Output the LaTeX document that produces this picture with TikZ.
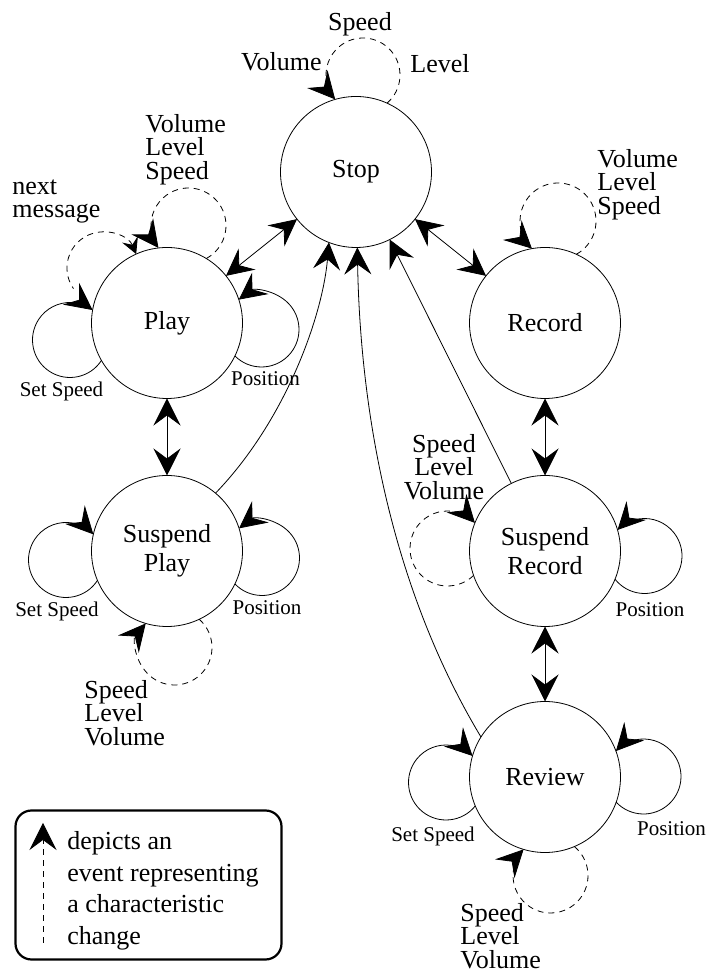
\documentclass[tikz,border=0pt]{standalone}
\usepackage{fontspec}
\setmainfont{Liberation Serif}
\usetikzlibrary{arrows.meta}
\newcommand\Rz{\rule{0pt}{20pt}}
\def\NR{75.5}
% self loop: #1 node, #2 dx, #3 dy (loop centre rel. to node centre), #4 loop radius, #5 1=ccw / -1=cw, #6 style
\newcommand\sloop[6]{%
  \pgfmathsetmacro\slD{sqrt((#2/10)^2+(#3/10)^2)}%
  \pgfmathsetmacro\slPhi{atan2(#3,#2)}%
  \pgfmathsetmacro\slBeta{acos((\slD^2+(#4/10)^2-(\NR/10)^2)/(2*\slD*#4/10))}%
  \pgfmathsetmacro\slGam{acos((\slD^2+(\NR/10)^2-(#4/10)^2)/(2*\slD*\NR/10))}%
  \ifnum#5>0
    \pgfmathsetmacro\slNA{\slPhi-\slGam}%
    \pgfmathsetmacro\slSA{\slPhi+180+\slBeta}%
    \pgfmathsetmacro\slEA{\slPhi+540-\slBeta}%
  \else
    \pgfmathsetmacro\slNA{\slPhi+\slGam}%
    \pgfmathsetmacro\slSA{\slPhi+180-\slBeta}%
    \pgfmathsetmacro\slEA{\slPhi-180+\slBeta}%
  \fi
  \draw[#6] ([shift={(\slNA:\NR pt)}]#1.center) arc[start angle=\slSA, end angle=\slEA, radius=#4pt];%
}
\begin{document}
\begin{tikzpicture}[x=1pt,y=1pt,
  >={Stealth[length=27pt,width=27pt,inset=10pt]},
  line width=0.8pt,
  state/.style={draw, circle, minimum size=151pt, inner sep=0pt, outer sep=0pt,
    font={\fontsize{26}{29}\selectfont}, align=center},
  dsh/.style={dash pattern=on 6pt off 5pt},
  lbl/.style={inner sep=0pt, align=left, font={\fontsize{26}{23.5}\selectfont\lineskiplimit=-50pt}},
  lblc/.style={inner sep=0pt, align=center, font={\fontsize{26}{23.5}\selectfont\lineskiplimit=-50pt}},
  one/.style={inner sep=0pt, font={\fontsize{26}{29}\selectfont}},
  small/.style={inner sep=0pt, font={\fontsize{21}{24}\selectfont}},
  legtext/.style={inner sep=0pt, align=left, font={\fontsize{26}{31.7}\selectfont}},
]
\useasboundingbox (0,0) rectangle (709,973);

% states
\node[state] (stop)    at (356,801) {Stop};
\node[state] (play)    at (167,650) {Play};
\node[state] (record)  at (545,650) {Record};
\node[state] (susplay) at (167,422) {Suspend\\Play};
\node[state] (susrec)  at (545,422) {Suspend\\Record};
\node[state] (review)  at (545,196) {Review};

% transitions
\draw[<->] (play) -- (stop);
\draw[<->] (stop) -- (record);
\draw[<->] (play) -- (susplay);
\draw[<->] (record) -- (susrec);
\draw[<->] (susrec) -- (review);
\draw[->] (susrec) -- (stop);
\draw[->] (susplay.50) .. controls +(46:100pt) and +(265:75pt) .. (stop.249);
\draw[->] (review.148) .. controls +(121:183pt) and +(271:152pt) .. (stop.271);

% self loops
\sloop{stop}{7}{97}{37}{1}{dsh,->}
\sloop{play}{21.5}{97.5}{37.5}{1}{dsh,->}
\sloop{record}{13}{102}{38}{1}{dsh,->}
\sloop{play}{94.5}{-6.5}{37.5}{1}{->}
\sloop{play}{-97}{-17}{37.5}{-1}{->}
\sloop{susplay}{-101}{-9}{37.5}{-1}{->}
\sloop{susplay}{95}{-7}{37.5}{1}{->}
\sloop{susplay}{7.5}{-96.5}{37.5}{-1}{dsh,->}
\sloop{susrec}{99.5}{-5}{37.5}{1}{->}
\sloop{susrec}{-97.5}{2.5}{37.5}{-1}{dsh,->}
\sloop{review}{-99}{-5.5}{37.5}{-1}{->}
\sloop{review}{98.5}{0.5}{37.5}{1}{->}
\sloop{review}{5.5}{-98.5}{37.5}{-1}{dsh,->}
\draw[dsh,{Stealth[length=16pt,width=17pt,inset=6pt]}-] ([shift={(114.1:\NR pt)}]play.center) arc[start angle=22.7, end angle=215, radius=36pt];

% labels
\node[one, anchor=base] (stopspeed) at (360,942) {Speed};
\node[one, anchor=base east] (stopvol) at (322,902) {Volume};
\node[one, anchor=base west] (stoplev) at (410,900) {Level};
\node[lbl, anchor=north west] (playvls) at (145,861) {\Rz Volume\\Level\\Speed};
\node[lbl, anchor=north west] (nextmsg) at (12,799) {\Rz next\\message};
\node[lbl, anchor=north west] (recvls) at (597,826) {\Rz Volume\\Level\\Speed};
\node[lblc, anchor=north] (srslv) at (444,541) {\Rz Speed\\Level\\Volume};
\node[lbl, anchor=north west] (spslv) at (84,295) {\Rz Speed\\Level\\Volume};
\node[lbl, anchor=north west] (rvslv) at (460,72) {\Rz Speed\\Level\\Volume};

\node[small, anchor=base] (playset) at (61.5,576) {Set Speed};
\node[small, anchor=base] (playpos) at (265.5,587) {Position};
\node[small, anchor=base] (spset) at (57,356) {Set Speed};
\node[small, anchor=base] (sppos) at (267,358) {Position};
\node[small, anchor=base] (srpos) at (650,356) {Position};
\node[small, anchor=base] (rvset) at (433,131) {Set Speed};
\node[small, anchor=base] (rvpos) at (671.5,137) {Position};

% legend
\node[draw, rounded corners=16pt, line width=2.2pt, minimum width=266pt, minimum height=149pt, inner sep=0pt] (legend) at (148.5,88) {};
\coordinate (lgtail) at (43,30);
\coordinate (lghead) at (43,150);
\draw[dsh,->] (lgtail) -- (lghead);
\node[legtext, anchor=north west] (legtxt) at (67,144) {\Rz depicts an\\event representing\\a characteristic\\change};
\end{tikzpicture}
\end{document}
